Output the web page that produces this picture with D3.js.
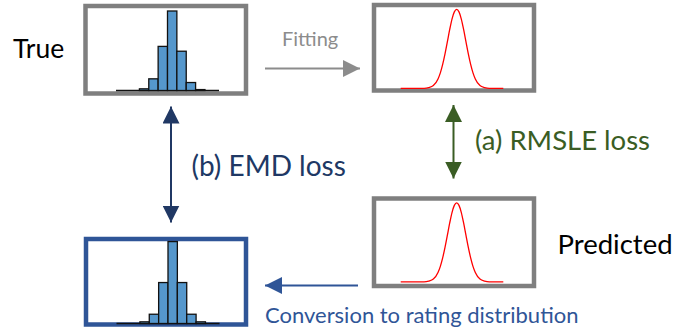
<!DOCTYPE html>
<html>
<head>
<meta charset="utf-8">
<script src="https://cdn.jsdelivr.net/npm/d3@7"></script>
<style>
  body { margin: 0; background: #fff; }
  text { font-family: Lato, "Open Sans", sans-serif; }
</style>
</head>
<body>
<div id="chart"></div>
<script>
// rating bins 1..10, share of votes in %
var ratings = [1, 2, 3, 4, 5, 6, 7, 8, 9, 10];
var trueDist = [0, 0, 0.9, 6.3, 23.8, 42.9, 21.2, 4.3, 0.5, 0];
var predDist = [0, 0, 0.9, 5.0, 22.1, 44.2, 22.1, 5.0, 0.9, 0];

// fitted normal curves (x in rating units, y in %)
var curveX = [0, 2.5, 3, 3.5, 4, 4.25, 4.5, 4.75, 5, 5.25, 5.5, 5.75, 6,
  6.25, 6.5, 6.75, 7, 7.25, 7.5, 7.75, 8, 8.5, 9, 9.5, 11];
var fitCurve = [0, 0, 0.4, 1.5, 5.1, 8.4, 13.0, 18.7, 25.2, 31.8, 37.6, 41.5, 42.9,
  41.5, 37.6, 31.8, 25.2, 18.7, 13.0, 8.4, 5.1, 1.5, 0.4, 0, 0];
var predCurve = [0, 0, 0.4, 1.5, 5.1, 8.4, 13.0, 18.7, 25.2, 31.8, 37.6, 41.5, 42.9,
  41.5, 37.6, 31.8, 25.2, 18.7, 13.0, 8.4, 5.1, 1.5, 0.4, 0, 0];

var width = 691,
  height = 330;

var gray = "#7f7f7f",
  navy = "#203864",
  blue = "#2f5597",
  green = "#3a5d24";

var svg = d3.select("#chart")
  .append("svg")
  .attr("width", width)
  .attr("height", height);

// one small panel: frame plus its contents
function panel(x0, y0, w, h, stroke) {
  var g = svg.append("g").attr("transform", "translate(" + x0 + "," + y0 + ")");
  g.append("rect")
    .attr("width", w)
    .attr("height", h)
    .attr("fill", "#fff")
    .attr("stroke", stroke)
    .attr("stroke-width", 4.5);
  return g;
}

function histogram(g, values) {
  var x = d3.scaleLinear().domain([0, 11]).range([30.5, 133.5]);
  var y = d3.scaleLinear().domain([0, 42.9]).range([84.5, 5]);
  var bars = ratings.map(function(r, i) { return { r: r, v: values[i] }; })
    .filter(function(d) { return d.v > 0; });
  g.append("line")
    .attr("x1", x(0)).attr("x2", x(11))
    .attr("y1", y(0)).attr("y2", y(0))
    .attr("stroke", "#111")
    .attr("stroke-width", 1.5);
  g.selectAll("rect.bar")
    .data(bars)
    .enter().append("rect")
    .attr("class", "bar")
    .attr("x", function(d) { return x(d.r - 0.5); })
    .attr("width", x(1) - x(0))
    .attr("y", function(d) { return y(d.v); })
    .attr("height", function(d) { return y(0) - y(d.v); })
    .attr("fill", "#5597cc")
    .attr("stroke", "#111")
    .attr("stroke-width", 1.3);
}

function curve(g, values) {
  var x = d3.scaleLinear().domain([0, 11]).range([26.7, 129.3]);
  var y = d3.scaleLinear().domain([0, 42.9]).range([83.3, 4.3]);
  var line = d3.line()
    .x(function(d, i) { return x(curveX[i]); })
    .y(function(d) { return y(d); })
    .curve(d3.curveMonotoneX);
  g.append("path")
    .attr("d", line(values))
    .attr("fill", "none")
    .attr("stroke", "#ff0000")
    .attr("stroke-width", 1.3);
}

histogram(panel(85.5, 6, 160.5, 87.5, gray), trueDist);
curve(panel(374, 5, 160, 85.5, gray), fitCurve);
curve(panel(374, 198.5, 160, 87.5, gray), predCurve);
histogram(panel(86, 239, 160, 85.5, blue), predDist);

// arrow heads
var defs = svg.append("defs");
function marker(id, color) {
  defs.append("marker")
    .attr("id", id)
    .attr("viewBox", "0 0 10 10")
    .attr("refX", 10)
    .attr("refY", 5)
    .attr("markerUnits", "userSpaceOnUse")
    .attr("markerWidth", 17)
    .attr("markerHeight", 17)
    .attr("orient", "auto-start-reverse")
    .append("path")
    .attr("d", "M0,0L10,5L0,10Z")
    .attr("fill", color);
}
marker("hGray", "#8c8c8c");
marker("hGreen", green);
marker("hNavy", navy);
marker("hBlue", blue);

function arrow(x1, y1, x2, y2, color, id, both) {
  var l = svg.append("line")
    .attr("x1", x1).attr("y1", y1)
    .attr("x2", x2).attr("y2", y2)
    .attr("stroke", color)
    .attr("stroke-width", 2)
    .attr("marker-end", "url(#" + id + ")");
  if (both) l.attr("marker-start", "url(#" + id + ")");
}

arrow(265, 68.5, 360, 68.5, "#8c8c8c", "hGray", false);
arrow(453.5, 105, 453.5, 178.5, green, "hGreen", true);
arrow(171, 106.5, 171, 222.5, navy, "hNavy", true);
arrow(358, 285.5, 265, 285.5, blue, "hBlue", false);

function label(x, y, s, size, color) {
  svg.append("text")
    .attr("x", x)
    .attr("y", y)
    .attr("font-size", size)
    .attr("fill", color)
    .text(s);
}

label(13, 58, "True", 26.5, "#000");
label(282, 46, "Fitting", 20, "#8c8c8c");
label(475, 150, "(a) RMSLE loss", 27.5, green);
label(191.5, 176, "(b) EMD loss", 28, navy);
label(557.5, 254, "Predicted", 27.5, "#000");
label(265, 323, "Conversion to rating distribution", 22, blue);
</script>
</body>
</html>
